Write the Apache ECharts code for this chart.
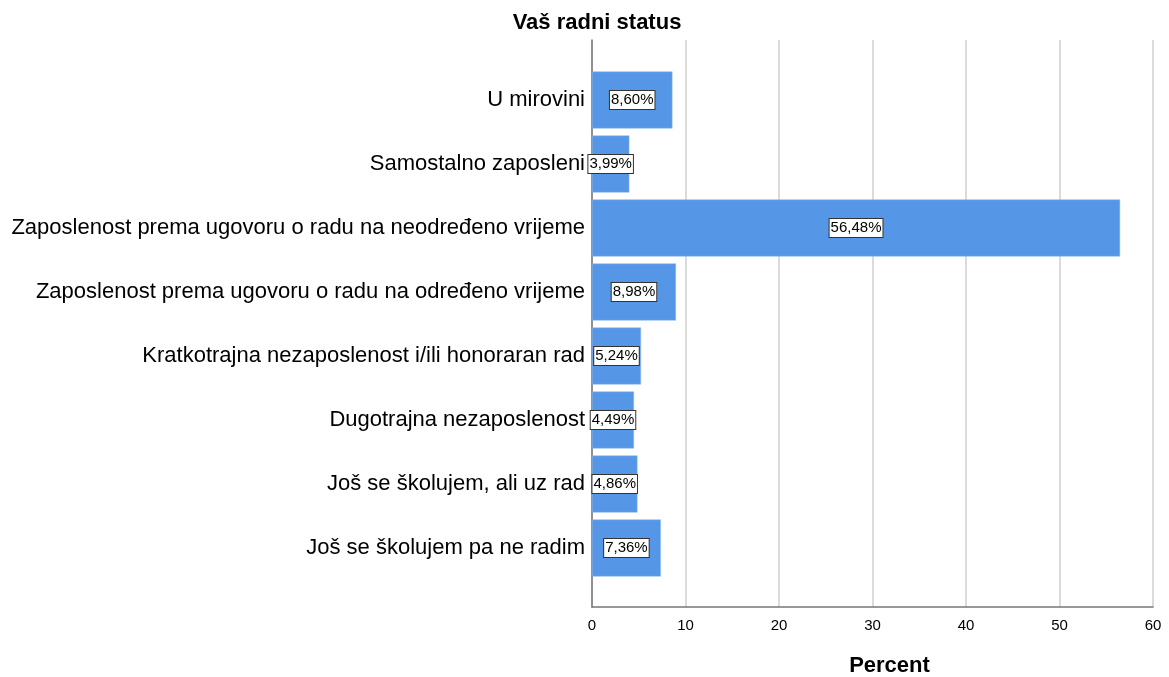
<!DOCTYPE html>
<html><head><meta charset="utf-8">
<script src="https://cdn.jsdelivr.net/npm/echarts@6/dist/echarts.min.js"></script>
<style>html,body{margin:0;padding:0;background:#fff}#c{width:1169px;height:677px}</style>
</head><body><div id="c"></div>
<script>
const categories = [
  'U mirovini',
  'Samostalno zaposleni',
  'Zaposlenost prema ugovoru o radu na neodređeno vrijeme',
  'Zaposlenost prema ugovoru o radu na određeno vrijeme',
  'Kratkotrajna nezaposlenost i/ili honoraran rad',
  'Dugotrajna nezaposlenost',
  'Još se školujem, ali uz rad',
  'Još se školujem pa ne radim'
];
const percents = [8.60, 3.99, 56.48, 8.98, 5.24, 4.49, 4.86, 7.36];
const xTicks = [0, 10, 20, 30, 40, 50, 60];

const chart = echarts.init(document.getElementById('c'), null, {renderer: 'canvas'});
const font = 'Arial, "Liberation Sans", sans-serif';
chart.setOption({
  animation: false,
  title: {
    text: 'Vaš radni status',
    left: 592, top: 7, textAlign: 'center',
    textStyle: {fontFamily: font, fontSize: 22, fontWeight: 'bold', color: '#000'}
  },
  grid: [
    {left: 592, right: 16, top: 40, bottom: 70, outerBoundsMode: 'none', containLabel: false},
    {left: 592, right: 16, top: 68, height: 512, outerBoundsMode: 'none', containLabel: false}
  ],
  xAxis: [
    {
      gridIndex: 0, type: 'value', min: xTicks[0], max: xTicks[xTicks.length - 1], interval: 10,
      name: 'Percent', nameLocation: 'middle', nameGap: 48,
      nameTextStyle: {fontFamily: font, fontSize: 22, fontWeight: 'bold', color: '#000', padding: [0, 0, 0, 34]},
      axisLine: {show: true, lineStyle: {color: '#777', width: 1.5}},
      axisTick: {show: false},
      axisLabel: {fontFamily: font, fontSize: 15, color: '#000', margin: 11},
      splitLine: {show: true, lineStyle: {color: '#cfcfcf', width: 1.5}}
    },
    {
      gridIndex: 1, type: 'value', min: 0, max: 60, show: false
    }
  ],
  yAxis: [
    {
      gridIndex: 0, type: 'value', min: 0, max: 1,
      axisLine: {show: true, lineStyle: {color: '#777', width: 1.5}},
      axisTick: {show: false}, axisLabel: {show: false}, splitLine: {show: false}
    },
    {
      gridIndex: 1, type: 'category', data: categories, inverse: true,
      axisLine: {show: false}, axisTick: {show: false}, splitLine: {show: false},
      axisLabel: {fontFamily: font, fontSize: 22, color: '#000', margin: 7}
    }
  ],
  series: [{
    type: 'bar', xAxisIndex: 1, yAxisIndex: 1,
    data: percents,
    barWidth: 57,
    itemStyle: {color: '#5596e6', borderColor: '#8bb7ee', borderWidth: 0.5},
    label: {
      show: true, position: 'inside',
      formatter: p => p.value.toFixed(2).replace('.', ',') + '%',
      fontFamily: font, fontSize: 15, color: '#000',
      backgroundColor: '#fff', borderColor: '#333', borderWidth: 1,
      padding: [2, 1, 1, 1]
    }
  }]
});
</script></body></html>
